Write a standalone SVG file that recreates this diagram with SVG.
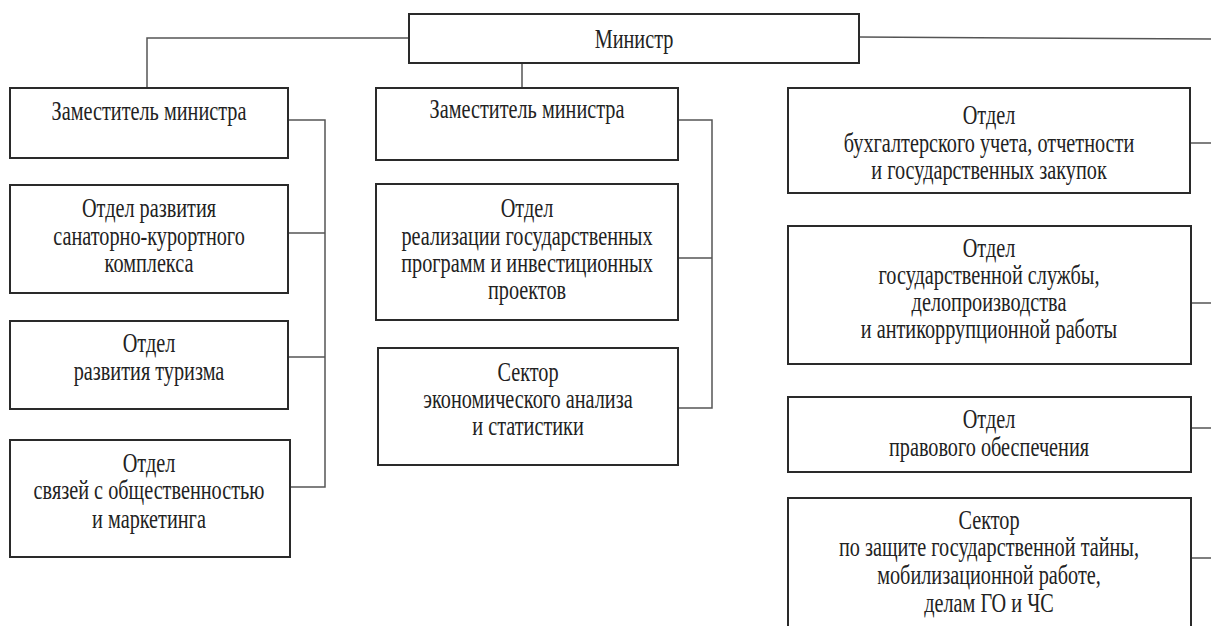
<svg xmlns="http://www.w3.org/2000/svg" width="1211" height="626" viewBox="0 0 1211 626">
<style>
.box{fill:#fff;stroke:#2a2a2a;stroke-width:2}
.t{font-family:"Liberation Serif","Times New Roman",serif;font-size:27px;fill:#222;text-anchor:middle}
.c{fill:none;stroke:#555;stroke-width:1.5}
</style>
<rect width="1211" height="626" fill="#fff"/>
<g id="connectors">
<path class="c" d="M409 38H147V88"/>
<path class="c" d="M859 37L1211 39"/>
<path class="c" d="M522 63V88"/>
<path class="c" d="M288 120H325V487H290M288 233H325M288 357H325"/>
<path class="c" d="M678 120H712V408H678M678 258H712"/>
<path class="c" d="M1190 143H1211M1191 303H1211M1191 428H1211M1191 558H1211"/>
</g>
<g id="minister"><rect class="box" x="409" y="14" width="450" height="49"/>
<text class="t" transform="translate(634 0) scale(0.75 1)"><tspan x="0" y="48">Министр</tspan></text></g>
<g id="dep1"><rect class="box" x="10" y="88" width="278" height="70"/>
<text class="t" transform="translate(149 0) scale(0.75 1)"><tspan x="0" y="120">Заместитель министра</tspan></text></g>
<g id="l2"><rect class="box" x="10" y="185" width="278" height="108"/>
<text class="t" transform="translate(149 0) scale(0.75 1)"><tspan x="0" y="217">Отдел развития</tspan><tspan x="0" y="245">санаторно-курортного</tspan><tspan x="0" y="272">комплекса</tspan></text></g>
<g id="l3"><rect class="box" x="10" y="321" width="278" height="88"/>
<text class="t" transform="translate(149 0) scale(0.75 1)"><tspan x="0" y="352">Отдел</tspan><tspan x="0" y="380">развития туризма</tspan></text></g>
<g id="l4"><rect class="box" x="10" y="440" width="280" height="117"/>
<text class="t" transform="translate(149 0) scale(0.75 1)"><tspan x="0" y="472">Отдел</tspan><tspan x="0" y="499">связей с общественностью</tspan><tspan x="0" y="528">и маркетинга</tspan></text></g>
<g id="dep2"><rect class="box" x="376" y="88" width="302" height="72"/>
<text class="t" transform="translate(527 0) scale(0.75 1)"><tspan x="0" y="118">Заместитель министра</tspan></text></g>
<g id="m2"><rect class="box" x="376" y="184" width="302" height="136"/>
<text class="t" transform="translate(527 0) scale(0.75 1)"><tspan x="0" y="217">Отдел</tspan><tspan x="0" y="245">реализации государственных</tspan><tspan x="0" y="272">программ и инвестиционных</tspan><tspan x="0" y="299">проектов</tspan></text></g>
<g id="m3"><rect class="box" x="378" y="348" width="300" height="117"/>
<text class="t" transform="translate(528 0) scale(0.75 1)"><tspan x="0" y="381">Сектор</tspan><tspan x="0" y="408">экономического анализа</tspan><tspan x="0" y="435">и статистики</tspan></text></g>
<g id="r1"><rect class="box" x="788" y="88" width="402" height="105"/>
<text class="t" transform="translate(989 0) scale(0.75 1)"><tspan x="0" y="124">Отдел</tspan><tspan x="0" y="152">бухгалтерского учета, отчетности</tspan><tspan x="0" y="179">и государственных закупок</tspan></text></g>
<g id="r2"><rect class="box" x="788" y="226" width="403" height="138"/>
<text class="t" transform="translate(989 0) scale(0.75 1)"><tspan x="0" y="257">Отдел</tspan><tspan x="0" y="284">государственной службы,</tspan><tspan x="0" y="311">делопроизводства</tspan><tspan x="0" y="338">и антикоррупционной работы</tspan></text></g>
<g id="r3"><rect class="box" x="788" y="397" width="403" height="75"/>
<text class="t" transform="translate(989 0) scale(0.75 1)"><tspan x="0" y="428">Отдел</tspan><tspan x="0" y="456">правового обеспечения</tspan></text></g>
<g id="r4"><rect class="box" x="788" y="498" width="403" height="140"/>
<text class="t" transform="translate(989 0) scale(0.75 1)"><tspan x="0" y="529">Сектор</tspan><tspan x="0" y="556">по защите государственной тайны,</tspan><tspan x="0" y="584">мобилизационной работе,</tspan><tspan x="0" y="612">делам ГО и ЧС</tspan></text></g>
</svg>
